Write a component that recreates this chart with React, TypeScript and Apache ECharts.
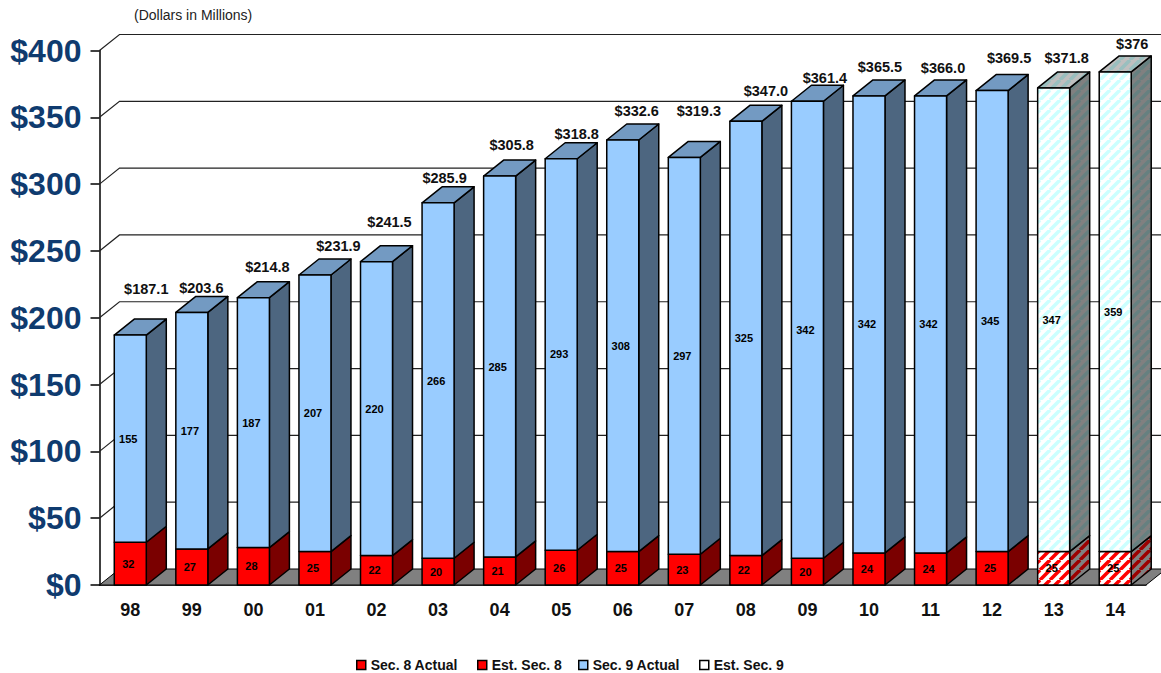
import React, { useEffect, useRef } from "react";
import * as echarts from "echarts";

const years = ["98","99","00","01","02","03","04","05","06","07","08","09","10","11","12","13","14"];
const sec8Actual = [32,27,28,25,22,20,21,26,25,23,22,20,24,24,25];
const estSec8 = [25,25];
const sec9Actual = [155,177,187,207,220,266,285,293,308,297,325,342,342,342,345];
const estSec9 = [347,359];
const totalLabels = ["$187.1","$203.6","$214.8","$231.9","$241.5","$285.9","$305.8","$318.8","$332.6","$319.3","$347.0","$361.4","$365.5","$366.0","$369.5","$371.8","$376"];
const yTicks = [0,50,100,150,200,250,300,350,400];

// hand placement of the value captions over each column (pixels)
const captionLift = [46,24,31,29,40,25,31,25,29,46,30,23,29,28,33,30,28];
const captionShift = [16,9.5,14,23.5,13,6.5,12,15.5,14,14.5,20,17.5,11,12.5,17,13,17];

const DX = 20, DY = 16;
const FONT = "'Liberation Sans', Arial, sans-serif";

function hatch(bg: string, stripe: string) {
  const size = 10;
  const c = document.createElement("canvas");
  c.width = size; c.height = size;
  const g = c.getContext("2d")!;
  g.fillStyle = bg; g.fillRect(0, 0, size, size);
  g.strokeStyle = stripe; g.lineWidth = 3.5;
  for (const o of [-size, 0, size]) {
    g.beginPath(); g.moveTo(o, size); g.lineTo(o + size, 0); g.stroke();
  }
  return { image: c, repeat: "repeat", imageWidth: size, imageHeight: size };
}

function face(points: number[][], fill: any) {
  return { type: "polygon", shape: { points }, style: { fill, stroke: "#000", lineWidth: 1.5, lineJoin: "round" } };
}

function boxSeries(name: string, rows: number[][], colors: any, cap: boolean, labelDx: number) {
  return {
    type: "custom", name, silent: true, coordinateSystem: "cartesian2d", data: rows, z: 3,
    encode: { x: 0, y: [1, 2] }, itemStyle: { color: colors.legend },
    renderItem: (_p: any, api: any) => {
      const i = api.value(0), v0 = api.value(1), v1 = api.value(2);
      const [cx, yb] = api.coord([i, v0]);
      const yt = api.coord([i, v1])[1];
      const w = api.size([1, 0])[0] * 0.52;
      const l = cx - w / 2, r = cx + w / 2;
      const children: any[] = [
        face([[r, yb], [r + DX, yb - DY], [r + DX, yt - DY], [r, yt]], colors.side),
      ];
      if (cap) children.push(face([[l, yt], [l + DX, yt - DY], [r + DX, yt - DY], [r, yt]], colors.top));
      children.push(face([[l, yb], [r, yb], [r, yt], [l, yt]], colors.front));
      children.push({
        type: "text", z2: 5,
        style: {
          text: String(Math.round(v1 - v0)), x: cx + labelDx, y: (yb + yt) / 2,
          align: "center", verticalAlign: "middle",
          font: `bold 11px ${FONT}`, fill: "#000",
        },
      });
      return { type: "group", children };
    },
  };
}

export default function App() {
  const ref = useRef<HTMLDivElement>(null);
  useEffect(() => {
    const chart = echarts.init(ref.current!, null, { renderer: "svg" });
    const n8 = sec8Actual.length;
    const sec8Rows = sec8Actual.map((v, i) => [i, 0, v]);
    const est8Rows = estSec8.map((v, i) => [n8 + i, 0, v]);
    const sec9Rows = sec9Actual.map((v, i) => [i, sec8Actual[i], sec8Actual[i] + v]);
    const est9Rows = estSec9.map((v, i) => [n8 + i, estSec8[i], estSec8[i] + v]);
    const tops = [...sec9Rows, ...est9Rows].map((r) => r[2]);

    const legendNames = [
      { name: "Sec. 8 Actual", color: "#ff0000", left: 351 },
      { name: "Est. Sec. 8", color: "#ff0000", left: 472 },
      { name: "Sec. 9 Actual", color: "#99ccff", left: 573 },
      { name: "Est. Sec. 9", color: "#ffffff", left: 694 },
    ];

    chart.setOption({
      animation: false,
      backgroundColor: "#fff",
      title: {
        text: "(Dollars in Millions)", left: 129, top: 3,
        textStyle: { fontFamily: FONT, fontSize: 14, fontWeight: "normal", color: "#222" },
      },
      legend: legendNames.map((l) => ({
        left: l.left, top: 653, itemWidth: 9, itemHeight: 9, itemGap: 0, selectedMode: false,
        textStyle: { fontFamily: FONT, fontSize: 14, fontWeight: "bold", color: "#111" },
        data: [{ name: l.name, icon: "rect", itemStyle: { color: l.color, borderColor: "#000", borderWidth: 1.5 } }],
      })),
      grid: { left: 99.5, top: 50.5, width: 1046.5, height: 534.5, containLabel: false },
      xAxis: {
        type: "category", data: years, boundaryGap: true,
        axisLine: { lineStyle: { color: "#000", width: 1.5 } },
        axisTick: { length: 8, alignWithLabel: false, lineStyle: { color: "#000", width: 1.5 } },
        axisLabel: { margin: 16, fontFamily: FONT, fontSize: 18, fontWeight: "bold", color: "#111", interval: 0 },
      },
      yAxis: {
        type: "value", min: 0, max: 400, interval: 50,
        splitLine: { show: false },
        axisLine: { show: true, lineStyle: { color: "#000", width: 1.5 } },
        axisTick: { show: true, length: 9, lineStyle: { color: "#000", width: 1.5 } },
        axisLabel: { margin: 18, fontFamily: FONT, fontSize: 32, fontWeight: "bold", color: "#0f3b6f", formatter: "${value}" },
      },
      series: [
        {
          type: "custom", name: "wall", silent: true, data: yTicks.map((v) => [0, v]), z: 1,
          encode: { x: 0, y: 1 },
          renderItem: (params: any, api: any) => {
            const y = api.coord([0, api.value(1)])[1];
            const x0 = params.coordSys.x, x1 = x0 + params.coordSys.width;
            const children: any[] = [];
            if (api.value(1) === 0) {
              children.push({ type: "polygon", shape: { points: [[x0, y], [x0 + DX, y - DY], [x1 + DX, y - DY], [x1, y]] }, style: { fill: "#808080", stroke: "#000", lineWidth: 1 } });
            } else {
              children.push({ type: "polyline", shape: { points: [[x0, y], [x0 + DX, y - DY], [x1 + DX, y - DY]] }, style: { fill: "none", stroke: "#222", lineWidth: 1.2 } });
            }
            return { type: "group", children };
          },
        },
        boxSeries("Sec. 8 Actual", sec8Rows, { legend: "#ff0000", front: "#ff0000", side: "#7a0000", top: "#7a0000" }, false, -2),
        boxSeries("Est. Sec. 8", est8Rows, { legend: "#ff0000", front: hatch("#ffffff", "#ff0000"), side: hatch("#808080", "#9c0000"), top: "#808080" }, false, -2),
        boxSeries("Sec. 9 Actual", sec9Rows, { legend: "#99ccff", front: "#99ccff", side: "#4d6680", top: "#739ac2" }, true, -2),
        boxSeries("Est. Sec. 9", est9Rows, { legend: "#ffffff", front: hatch("#ffffff", "#ccffff"), side: hatch("#808080", "#668080"), top: hatch("#bfbfbf", "#99bfbf") }, true, -2),
        {
          type: "custom", name: "captions", silent: true, z: 4,
          data: tops.map((t, i) => [i, t]), encode: { x: 0, y: 1 },
          renderItem: (_p: any, api: any) => {
            const i = api.value(0);
            const [cx, y] = api.coord([i, api.value(1)]);
            return {
              type: "text",
              style: {
                text: totalLabels[i], x: cx + captionShift[i], y: y - captionLift[i],
                align: "center", verticalAlign: "middle",
                font: `bold 14.5px ${FONT}`, fill: "#111",
              },
            };
          },
        },
      ],
    } as any);
    return () => chart.dispose();
  }, []);
  return <div ref={ref} style={{ position: "fixed", left: 0, top: 0, width: 1161, height: 673 }} />;
}
